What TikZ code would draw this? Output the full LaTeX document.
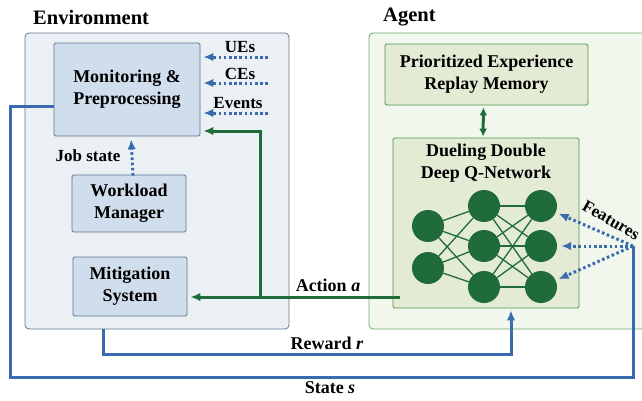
\documentclass[tikz,border=0pt]{standalone}
\usepackage{fontspec}
\setmainfont{Liberation Serif}
\usetikzlibrary{arrows.meta}
\definecolor{envfill}{HTML}{EBF0F5}
\definecolor{envdraw}{HTML}{60758F}
\definecolor{boxfill}{HTML}{D0DDEC}
\definecolor{agfill}{HTML}{F1F7EC}
\definecolor{agdraw}{HTML}{6DAA6D}
\definecolor{gbfill}{HTML}{E3EBD5}
\definecolor{gbdraw}{HTML}{4F944F}
\definecolor{lblue}{HTML}{3A6BB0}
\definecolor{lgreen}{HTML}{206B3A}
\begin{document}
\begin{tikzpicture}[x=1pt,y=-1pt,
  boxtext/.style={font=\fontsize{18}{22}\selectfont\bfseries, align=center},
  lbl/.style={font=\fontsize{17}{20}\selectfont\bfseries, inner sep=0pt},
  head/.style={font=\fontsize{20.5}{24}\selectfont\bfseries, inner sep=0pt, anchor=west},
  outer/.style={draw, rounded corners=4pt, line width=0.8pt, inner sep=0pt},
  envbox/.style={draw=envdraw, fill=boxfill, rounded corners=1.5pt, line width=0.8pt, inner sep=0pt, boxtext},
  agbox/.style={draw=gbdraw, fill=gbfill, rounded corners=1.5pt, line width=0.8pt, inner sep=0pt, boxtext},
  neuron/.style={circle, fill=lgreen, minimum size=32pt, inner sep=0pt},
  blueline/.style={draw=lblue, line width=3pt},
  greenline/.style={draw=lgreen, line width=3pt},
  dotline/.style={draw=lblue, line width=3pt, dash pattern=on 2.6pt off 2.6pt},
  tip/.style={-{Latex[length=10pt,width=8.5pt]}},
]
\useasboundingbox (0,0) rectangle (642,400);
% outer containers
\node[outer, draw=envdraw, fill=envfill, minimum width=264pt, minimum height=296pt] (env) at (157,181) {};
\node[outer, draw=agdraw, fill=agfill, minimum width=285pt, minimum height=296pt] (agent) at (511.5,181) {};
\node[head] (envt) at (33,17) {Environment};
\node[head] (agt) at (383,17) {Agent};
% environment boxes
\node[envbox, minimum width=146pt, minimum height=93pt] (mon) at (127,89.5) {Monitoring \&\\Preprocessing};
\node[envbox, minimum width=114pt, minimum height=57pt] (wl) at (129,203.5) {Workload\\Manager};
\node[envbox, minimum width=114pt, minimum height=59pt] (mit) at (130,286.5) {Mitigation\\System};
% agent boxes
\node[agbox, minimum width=203pt, minimum height=61pt] (per) at (486.5,74.5) {Prioritized Experience\\Replay Memory};
\node[agbox, minimum width=186pt, minimum height=170pt] (ddqn) at (486,223) {};
\node[boxtext, inner sep=0pt] (ddqnt) at (486,163) {Dueling Double\\Deep Q-Network};
% neurons
\node[neuron] (n11) at (428,226) {};
\node[neuron] (n12) at (428,268) {};
\node[neuron] (n21) at (484,206) {};
\node[neuron] (n22) at (484,246) {};
\node[neuron] (n23) at (484,287) {};
\node[neuron] (n31) at (541,206) {};
\node[neuron] (n32) at (541,246) {};
\node[neuron] (n33) at (541,287) {};
\foreach \a in {n11,n12}{\foreach \b in {n21,n22,n23}{\draw[lgreen, line width=1.3pt] (\a) -- (\b);}}
\foreach \a in {n21,n22,n23}{\foreach \b in {n31,n32,n33}{\draw[lgreen, line width=1.3pt] (\a) -- (\b);}}
% labels
\node[lbl] (ue) at (240,47) {UEs};
\node[lbl] (ce) at (240,74) {CEs};
\node[lbl] (evt) at (238,103) {Events};
\node[lbl] (js) at (88,156) {Job state};
\node[lbl, font=\fontsize{18}{22}\selectfont\bfseries] (actl) at (328,285) {Action \textit{a}};
\node[lbl, font=\fontsize{18}{22}\selectfont\bfseries] (rwl) at (327,343) {Reward \textit{r}};
\node[lbl, font=\fontsize{18}{22}\selectfont\bfseries] (stl) at (330,388) {State \textit{s}};
\node[lbl, rotate=-30] (featl) at (611,220) {Features};
% coordinates
\coordinate (uein) at (268,57);
\coordinate (cein) at (268,83);
\coordinate (evin) at (268,113);
\coordinate (act) at (400,297);
\coordinate (br) at (260,297);
\coordinate (sL) at (10,377);
\coordinate (sR) at (633,377);
\coordinate (feat) at (633,246);
\coordinate (rb) at (511,354);
% dotted inputs
\draw[dotline, tip, shorten >=3pt] (uein) -- (mon.east |- uein);
\draw[dotline, tip, shorten >=3pt] (cein) -- (mon.east |- cein);
\draw[dotline, tip, shorten >=3pt] (evin) -- (mon.east |- evin);
\draw[dotline, tip, shorten >=3pt, shorten <=-1pt] ([xshift=4pt]wl.north) -- ([xshift=4pt]mon.south);
% action
\draw[greenline, tip, shorten >=3pt] (act) -- (mit.east |- act);
\draw[greenline, tip, shorten >=3pt] (br) |- ([yshift=-41.5pt]mon.east);
% per <-> ddqn
\draw[lgreen, line width=3pt, {Latex[length=8pt,width=8pt]}-{Latex[length=8pt,width=8pt]}, shorten >=1pt, shorten <=2pt] ([xshift=-3pt]per.south) -- ([xshift=-3pt]ddqn.north);
% state
\draw[blueline, line join=miter] ([yshift=-17pt]mon.west) -| (sL) -- (sR) -- (feat);
\draw[dotline, tip, shorten >=3pt] (feat) -- (n31);
\draw[dotline, tip, shorten >=4pt] (feat) -- (n32);
\draw[dotline, tip, shorten >=3pt] (feat) -- (n33);
% reward
\draw[blueline, tip, shorten >=2pt] ([xshift=-54pt]env.south) |- (rb) -- ([xshift=25pt]ddqn.south);
\end{tikzpicture}
\end{document}
